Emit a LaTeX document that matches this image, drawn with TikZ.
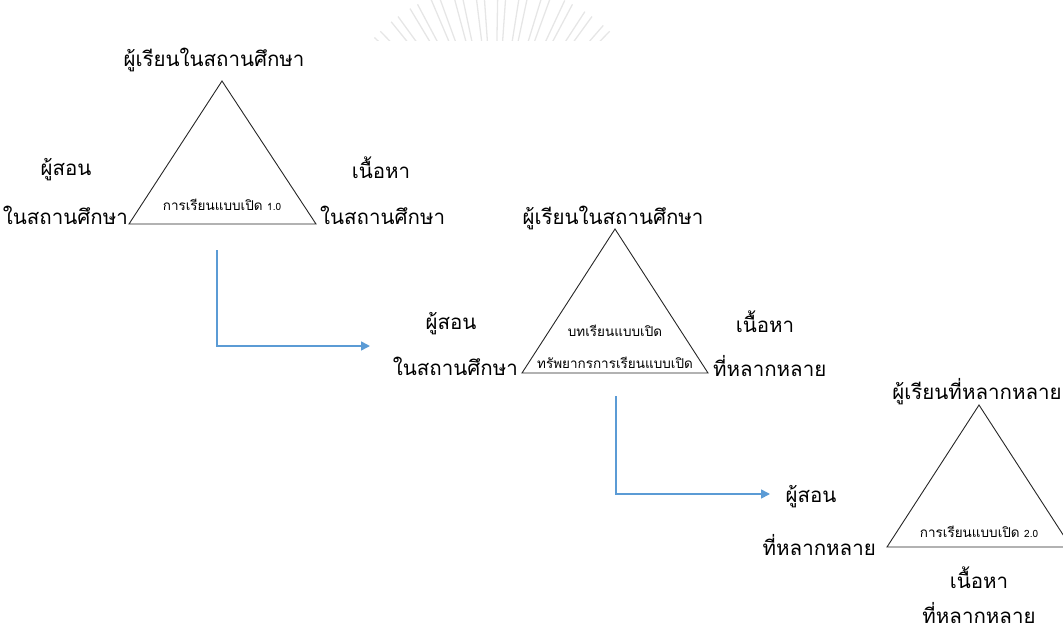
\documentclass[tikz,border=0pt]{standalone}
\usepackage{fontspec}
\usetikzlibrary{arrows.meta}
\newfontfamily\thaifont[Script=Thai]{Loma}
\definecolor{flowblue}{HTML}{5B9BD5}
\definecolor{sealgray}{HTML}{E6E6E6}
\begin{document}
\begin{tikzpicture}[x=1pt,y=-1pt,
  lbl/.style={font=\thaifont\fontsize{20.5}{24}\selectfont, inner sep=0pt},
  innerlbl/.style={font=\thaifont\fontsize{13.5}{16}\selectfont, inner sep=0pt},
  tri/.style={draw=black!85, line width=0.9pt, line join=miter},
  flow/.style={draw=flowblue, line width=1.6pt, -{Triangle[length=9pt,width=9pt]}},
  petal/.style={draw=sealgray, line width=1.3pt}]
\useasboundingbox (0,0) rectangle (1063,632);
\clip (0,0) rectangle (1063,632);

% faint seal fragment at the top edge
\begin{scope}
  \clip (360,0) rectangle (680,40);
  \foreach \a in {-44,-36,-28,-20,-12,-4,4,12,20,28,36,44}{
    \draw[petal] (495,150) ++(\a-90:75) -- ++(\a-90:90);
    \draw[petal] (495,150) ++(\a-93:80) -- ++(\a-93:85);
  }
\end{scope}

% first triangle: open learning 1.0
\coordinate (a1) at (222,81);
\coordinate (l1) at (129,224);
\coordinate (r1) at (316,224);
\draw[tri] (a1) -- (l1) -- (r1) -- cycle;
\node[lbl] (top1) at (214,60) {ผู้เรียนในสถานศึกษา};
\node[lbl] (tl1) at (66,170) {ผู้สอน};
\node[lbl, anchor=east] (tl1b) at (128,215) {ในสถานศึกษา};
\node[lbl] (ct1) at (381,168) {เนื้อหา};
\node[lbl, anchor=west] (ct1b) at (320,215) {ในสถานศึกษา};
\node[innerlbl] (in1) at (222,205) {การเรียนแบบเปิด {\fontsize{10}{12}\selectfont 1.0}};

% second triangle: open lessons and resources
\coordinate (a2) at (615,229);
\coordinate (l2) at (522,373);
\coordinate (r2) at (708,373);
\draw[tri] (a2) -- (l2) -- (r2) -- cycle;
\node[lbl] (top2) at (613,218) {ผู้เรียนในสถานศึกษา};
\node[lbl] (tl2) at (451,324) {ผู้สอน};
\node[lbl, anchor=east] (tl2b) at (518,366) {ในสถานศึกษา};
\node[lbl] (ct2) at (765,322) {เนื้อหา};
\node[lbl, anchor=west] (ct2b) at (713,366) {ที่หลากหลาย};
\node[innerlbl] (in2a) at (615,331) {บทเรียนแบบเปิด};
\node[innerlbl] (in2b) at (615,363) {ทรัพยากรการเรียนแบบเปิด};

% third triangle: open learning 2.0
\coordinate (a3) at (979,405);
\coordinate (l3) at (887,547);
\coordinate (r3) at (1071,547);
\draw[tri] (a3) -- (l3) -- (r3) -- cycle;
\node[lbl] (top3) at (977,392) {ผู้เรียนที่หลากหลาย};
\node[lbl] (tl3) at (811,497) {ผู้สอน};
\node[lbl, anchor=east] (tl3b) at (876,545) {ที่หลากหลาย};
\node[lbl] (ct3) at (979,578) {เนื้อหา};
\node[lbl] (ct3b) at (979,613) {ที่หลากหลาย};
\node[innerlbl] (in3) at (979,532) {การเรียนแบบเปิด {\fontsize{10}{12}\selectfont 2.0}};

% elbow arrows between the stages
\coordinate (f1s) at (217,250);
\coordinate (f1e) at (370,346);
\draw[flow] (f1s) |- (f1e);
\coordinate (f2s) at (616,396);
\coordinate (f2e) at (770,494);
\draw[flow] (f2s) |- (f2e);
\end{tikzpicture}
\end{document}
